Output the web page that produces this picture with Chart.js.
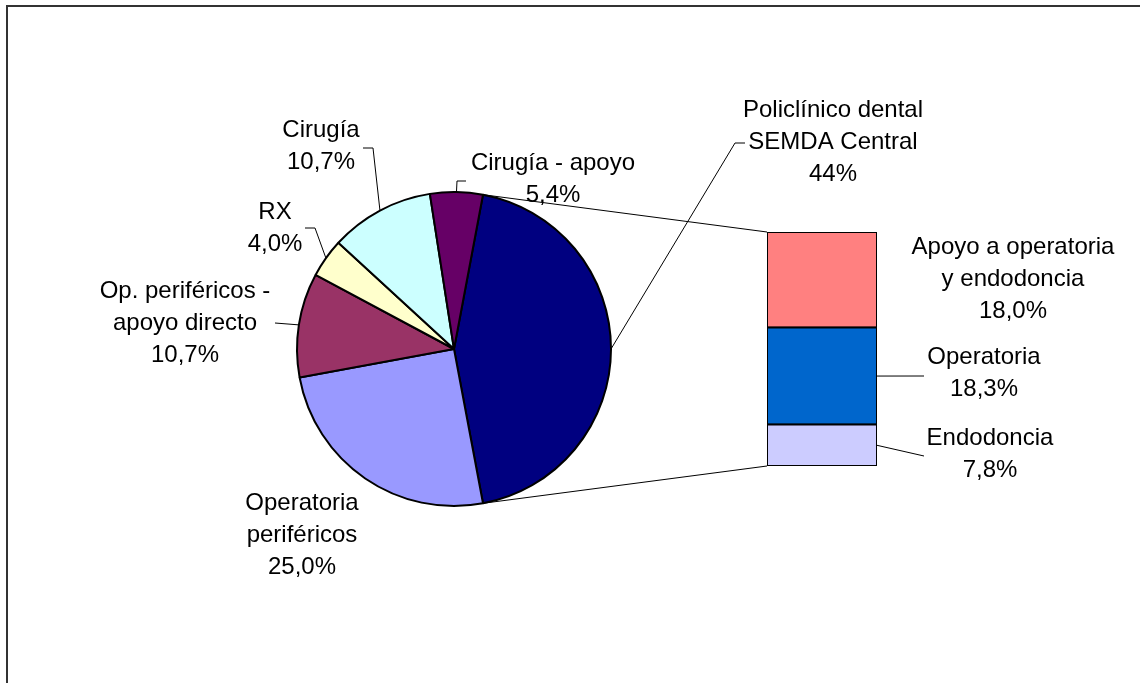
<!DOCTYPE html>
<html>
<head>
<meta charset="utf-8">
<script src="https://cdn.jsdelivr.net/npm/chart.js@4/dist/chart.umd.min.js"></script>
<style>
  body { margin: 0; background: #fff; }
  #wrap { position: relative; width: 1140px; height: 683px; overflow: hidden; }
  #wrap canvas { position: absolute; left: 0; top: 0; }
</style>
</head>
<body>
<div id="wrap">
  <canvas id="pieChart" width="1140" height="683"></canvas>
  <canvas id="barChart" width="1140" height="683"></canvas>
</div>
<script>
// pie data (first slice is the one split into the bar)
const pieLabels = [
  ['Policlínico dental', 'SEMDA Central'],
  ['Operatoria', 'periféricos'],
  ['Op. periféricos -', 'apoyo directo'],
  ['RX'],
  ['Cirugía'],
  ['Cirugía - apoyo']];
const pieValues = [44, 25.0, 10.7, 4.0, 10.7, 5.4];
const pieDigits = [0, 1, 1, 1, 1, 1];
const pieColors = ['#000080', '#9999FF', '#993366', '#FFFFCC', '#CCFFFF', '#660066'];

// bar data, bottom to top
const barLabels = [['Endodoncia'], ['Operatoria'], ['Apoyo a operatoria', 'y endodoncia']];
const barValues = [7.8, 18.3, 18.0];
const barColors = ['#CCCCFF', '#0066CC', '#FF8080'];

// label placement (text centre x, first line y, leader bend / end)
const pieLabelPos = [
  {x: 833, y: 110, elbow: [735, 143], end: [745, 143]},
  {x: 302, y: 503},
  {x: 185, y: 291, end: [275, 323]},
  {x: 275, y: 212, elbow: [315, 228], end: [305, 228]},
  {x: 321, y: 130, elbow: [373, 148], end: [363, 148]},
  {x: 553, y: 163, elbow: [457, 181], end: [466, 181]}];
const barLabelPos = [
  {x: 990, y: 438, end: [924, 456]},
  {x: 984, y: 357, end: [924, 376]},
  {x: 1013, y: 247}];

const FONT = '24px "Liberation Sans", Arial, sans-serif';
const LINE_H = 32;

function pct(v, d) {
  return v.toFixed(d).replace('.', ',') + '%';
}

function drawText(ctx, lines, x, y) {
  ctx.save();
  ctx.font = FONT;
  ctx.fillStyle = '#000';
  ctx.textAlign = 'center';
  ctx.textBaseline = 'middle';
  lines.forEach((t, i) => ctx.fillText(t, x, y + i * LINE_H));
  ctx.restore();
}

function drawPath(ctx, pts) {
  ctx.save();
  ctx.strokeStyle = '#000';
  ctx.lineWidth = 1;
  ctx.beginPath();
  ctx.moveTo(pts[0][0], pts[0][1]);
  for (let i = 1; i < pts.length; i++) ctx.lineTo(pts[i][0], pts[i][1]);
  ctx.stroke();
  ctx.restore();
}

const pieTotal = pieValues.reduce((a, b) => a + b, 0);
const barTotal = barValues.reduce((a, b) => a + b, 0);

const pieChart = new Chart(document.getElementById('pieChart'), {
  type: 'pie',
  data: {
    labels: pieLabels.map(l => l.join(' ')),
    datasets: [{
      data: pieValues,
      backgroundColor: pieColors,
      borderColor: '#000',
      borderWidth: 2
    }]
  },
  options: {
    responsive: false,
    animation: false,
    // centre the split slice on the right side
    rotation: 90 - pieValues[0] / pieTotal * 180,
    radius: 157,
    layout: {padding: {left: 254, right: 486, top: 149, bottom: 134}},
    plugins: {legend: {display: false}, tooltip: {enabled: false}}
  },
  plugins: [{
    id: 'bg',
    beforeDraw(chart) {
      const ctx = chart.ctx;
      ctx.save();
      ctx.fillStyle = '#fff';
      ctx.fillRect(0, 0, chart.width, chart.height);
      ctx.strokeStyle = '#333';
      ctx.lineWidth = 2;
      ctx.strokeRect(7, 6, 1200, 720);
      ctx.restore();
    }
  }]
});

const barChart = new Chart(document.getElementById('barChart'), {
  type: 'bar',
  data: {
    labels: [''],
    datasets: barValues.map((v, i) => ({
      label: barLabels[i].join(' '),
      data: [v],
      backgroundColor: barColors[i],
      borderColor: '#000',
      borderWidth: 2,
      borderSkipped: false,
      inflateAmount: 1,
      categoryPercentage: 1,
      barPercentage: 1
    }))
  },
  options: {
    responsive: false,
    animation: false,
    layout: {padding: {left: 767, right: 263, top: 232, bottom: 217}},
    scales: {
      x: {stacked: true, display: false},
      y: {stacked: true, display: false, min: 0, max: barTotal}
    },
    plugins: {legend: {display: false}, tooltip: {enabled: false}}
  },
  plugins: [{
    id: 'labels',
    afterDraw(chart) {
      const ctx = chart.ctx;
      const arcs = pieChart.getDatasetMeta(0).data;

      // pie labels with leader lines
      arcs.forEach((arc, i) => {
        const p = pieLabelPos[i];
        const mid = (arc.startAngle + arc.endAngle) / 2;
        const start = [arc.x + arc.outerRadius * Math.cos(mid), arc.y + arc.outerRadius * Math.sin(mid)];
        if (p.end) {
          const pts = [start];
          if (p.elbow) pts.push(p.elbow);
          pts.push(p.end);
          drawPath(ctx, pts);
        }
        drawText(ctx, pieLabels[i].concat([pct(pieValues[i], pieDigits[i])]), p.x, p.y);
      });

      // connector lines from the split slice to the bar
      const big = arcs[0];
      const topBar = chart.getDatasetMeta(barValues.length - 1).data[0];
      const botBar = chart.getDatasetMeta(0).data[0];
      const left = topBar.x - topBar.width / 2;
      drawPath(ctx, [[big.x + big.outerRadius * Math.cos(big.startAngle), big.y + big.outerRadius * Math.sin(big.startAngle)], [left, topBar.y]]);
      drawPath(ctx, [[big.x + big.outerRadius * Math.cos(big.endAngle), big.y + big.outerRadius * Math.sin(big.endAngle)], [left, botBar.base]]);

      // bar labels
      barValues.forEach((v, i) => {
        const el = chart.getDatasetMeta(i).data[0];
        const p = barLabelPos[i];
        if (p.end) {
          const right = el.x + el.width / 2;
          drawPath(ctx, [[right, (el.y + el.base) / 2], p.end]);
        }
        drawText(ctx, barLabels[i].concat([pct(v, 1)]), p.x, p.y);
      });
    }
  }]
});
</script>
</body>
</html>
